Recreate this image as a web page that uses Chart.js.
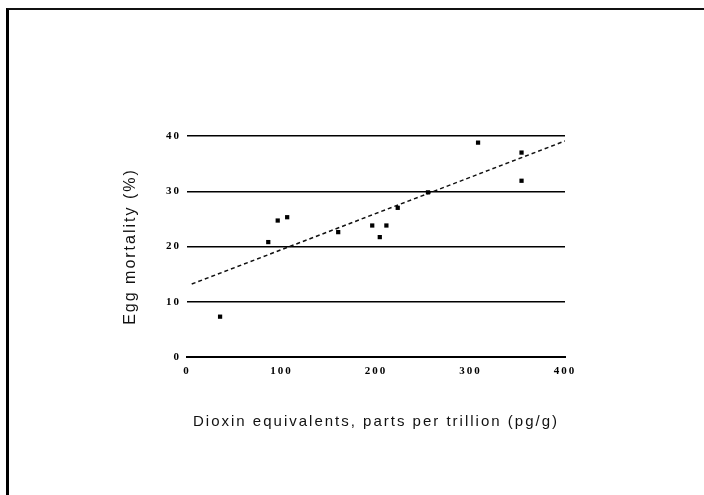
<!DOCTYPE html>
<html>
<head>
<meta charset="utf-8">
<script src="https://cdn.jsdelivr.net/npm/chart.js@4/dist/chart.umd.min.js"></script>
<style>
  html, body { margin: 0; padding: 0; background: #fff; }
  #wrap { position: absolute; left: 0; top: 0; width: 704px; height: 495px; }
  #frame { position: absolute; left: 6px; top: 8px; right: -10px; bottom: -10px;
           border-top: 2px solid #111; border-left: 3px solid #000; }
  canvas { position: absolute; left: 0; top: 0; }
</style>
</head>
<body>
<div id="wrap">
  <div id="frame"></div>
  <canvas id="scatter_chart" width="704" height="495"></canvas>
</div>
<script>
// dioxin (pg/g) vs egg mortality (%)
var dioxin    = [35, 86, 96, 106, 160, 196, 204, 211, 223, 255, 308, 354, 354];
var mortality = [7.3, 20.8, 24.7, 25.3, 22.6, 23.8, 21.7, 23.8, 27, 29.8, 38.8, 37, 31.9];

// fitted line
var fitX = [5, 400];
var fitY = [13.2, 39.1];

var xTicks = [0, 100, 200, 300, 400];
var yTicks = [0, 10, 20, 30, 40];

var points = dioxin.map(function(x, i) { return {x: x, y: mortality[i]}; });
var fitLine = fitX.map(function(x, i) { return {x: x, y: fitY[i]}; });

// the scanned labels are spaced out wide
var spacing = {
  id: 'spacing',
  beforeDraw: function(chart) { chart.ctx.letterSpacing = '2px'; }
};

var ctx = document.getElementById("scatter_chart");
new Chart(ctx, {
  type: 'scatter',
  data: {
    datasets: [
      {
        label: 'Eggs',
        data: points,
        pointStyle: 'rect',
        pointRadius: 3,
        backgroundColor: '#000',
        borderColor: '#000',
        borderWidth: 0
      },
      {
        type: 'line',
        label: 'Fit',
        data: fitLine,
        borderColor: '#111',
        borderWidth: 1.5,
        borderDash: [4, 3],
        pointRadius: 0,
        fill: false
      }
    ]
  },
  options: {
    responsive: false,
    animation: false,
    layout: { padding: { left: 112, right: 139, top: 136, bottom: 60 } },
    plugins: { legend: { display: false }, tooltip: { enabled: false } },
    scales: {
      x: {
        type: 'linear',
        min: 0, max: 400,
        afterBuildTicks: function(axis) { axis.ticks = xTicks.map(function(v) { return {value: v}; }); },
        afterFit: function(axis) { axis.height = 78; },
        grid: { display: false, drawTicks: false },
        border: { display: true, color: '#000', width: 2 },
        ticks: { color: '#000', padding: 8, font: { family: 'Liberation Serif', size: 11, weight: 'bold' } },
        title: {
          display: true,
          text: 'Dioxin equivalents, parts per trillion (pg/g)',
          color: '#111',
          font: { family: 'Liberation Sans', size: 15 },
          padding: { top: 0, bottom: 4 }
        }
      },
      y: {
        min: 0, max: 40,
        afterBuildTicks: function(axis) { axis.ticks = yTicks.map(function(v) { return {value: v}; }); },
        afterFit: function(axis) { axis.width = 75; },
        grid: { color: '#000', lineWidth: 1.5, drawTicks: false },
        border: { display: false },
        ticks: { color: '#000', padding: 6, font: { family: 'Liberation Serif', size: 11, weight: 'bold' } },
        title: {
          display: true,
          text: 'Egg mortality (%)',
          color: '#111',
          font: { family: 'Liberation Sans', size: 16 },
          padding: { top: 9, bottom: 0 }
        }
      }
    }
  },
  plugins: [spacing]
});
</script>
</body>
</html>
